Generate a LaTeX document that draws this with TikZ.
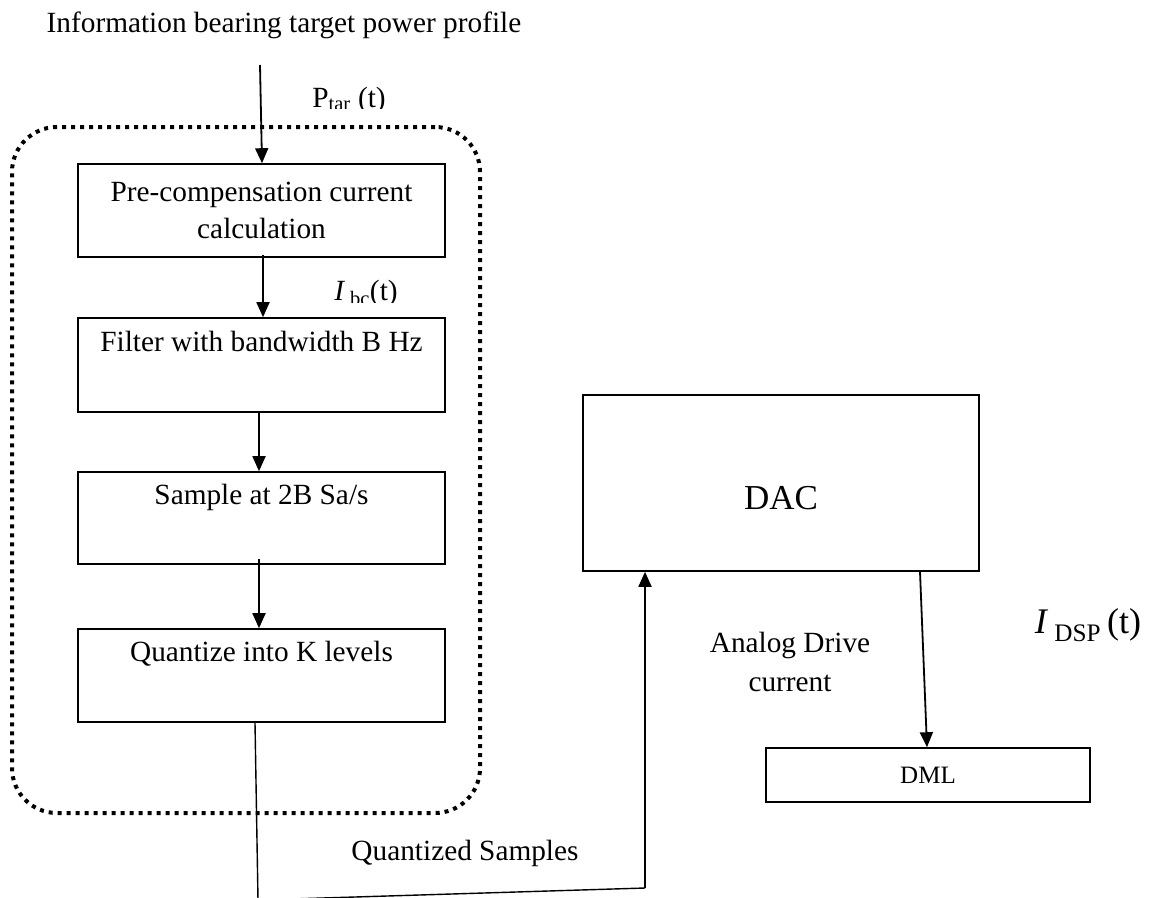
\documentclass[tikz,border=0pt]{standalone}
\usepackage{fontspec}
\setmainfont{Liberation Serif}
\usetikzlibrary{positioning, calc, arrows.meta}
\tikzset{
	blockbox/.style={
			draw=black,
			line width=1.6pt,
			fill=white,
			inner sep=0pt,
			align=center,
			font=\fontsize{29.3}{37}\selectfont
		},
	groupbox/.style={
			draw=black,
			line width=4pt,
			dash pattern=on 4pt off 5pt,
			rounded corners=45pt,
			inner sep=0pt
		},
	labeltext/.style={
			inner sep=0pt,
			align=center,
			font=\fontsize{29.3}{39}\selectfont
		},
	flow/.style={
			line width=1.8pt,
			-{Triangle[length=15pt,width=13pt]}
		},
	wire/.style={
			line width=1.4pt
		}
}

\begin{document}
\begin{tikzpicture}[x=1pt, y=-1pt]
\clip (0,0) rectangle (1150,897);

\node[groupbox, minimum width=468pt, minimum height=686pt] (grp) at (246,470) {};

\node[blockbox, minimum width=367pt, minimum height=93pt] (pre) at (261.5,210.5) {Pre-compensation current\\calculation};
\node[blockbox, minimum width=367pt, minimum height=94pt] (filt) at (261.5,365) {Filter with bandwidth B Hz\\\strut};
\node[blockbox, minimum width=367pt, minimum height=92pt] (samp) at (261.5,518) {Sample at 2B Sa/s\\\strut};
\node[blockbox, minimum width=367pt, minimum height=93pt] (quant) at (261.5,675.5) {Quantize into K levels\\\strut};
\node[blockbox, minimum width=396pt, minimum height=176pt, text height=52pt, text depth=0pt, font=\fontsize{35}{40}\selectfont] (dac) at (781,483) {DAC};
\node[blockbox, minimum width=324pt, minimum height=54pt, font=\fontsize{25}{30}\selectfont] (dml) at (928,775) {DML};

\node[labeltext] (title) at (284,25) {Information bearing target power profile};
% the two signal labels are cut off just under the baseline
\begin{scope}
\clip (290,70) rectangle (400,108);
\node[labeltext] (ptar) at (349,100) {P\textsubscript{tar} (t)};
\end{scope}
\begin{scope}
\clip (320,270) rectangle (420,302);
\node[labeltext] (ibc) at (366,293) {\textit{I}\,\textsubscript{bc}(t)};
\end{scope}
\node[labeltext] (analog) at (790,662) {Analog Drive\\current};
\node[labeltext, font=\fontsize{36}{40}\selectfont] (idsp) at (1088,625) {\textit{I}\,\textsubscript{DSP}\,(t)};
\node[labeltext] (qsamp) at (465,853) {Quantized Samples};

\coordinate (pin) at (260,65);
\coordinate (qdown) at (258,900);
\coordinate (qturn) at (645,888);

\draw[flow] (pin) -- ([xshift=0.5pt]pre.north);
\draw[flow] ([xshift=1.5pt,yshift=3pt]pre.south) -- ([xshift=1.5pt]filt.north);
\draw[flow] ([xshift=-2.5pt]filt.south) -- ([xshift=-2.5pt]samp.north);
\draw[flow] ([xshift=-2.5pt,yshift=6pt]samp.south) -- ([xshift=-2.5pt]quant.north);
\draw[wire] ([xshift=-6.5pt]quant.south) -- (qdown) -- (qturn);
\draw[flow] (qturn) -- (qturn |- dac.south);
\draw[flow] ($(dac.south)+(139,0)$) -- ($(dml.north)+(-1,0)$);

\end{tikzpicture}
\end{document}
